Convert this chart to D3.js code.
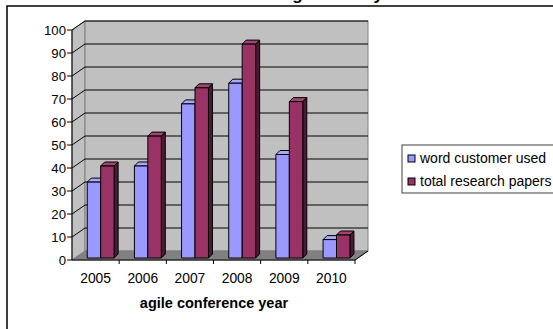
<!DOCTYPE html>
<html>
<head>
<meta charset="utf-8">
<script src="https://cdn.jsdelivr.net/npm/d3@7"></script>
<style>
  body { margin: 0; background: #fff; }
  text { font-family: "Liberation Sans", Arial, sans-serif; }
</style>
</head>
<body>
<svg id="chart" width="553" height="329"></svg>
<script>
var years = ["2005", "2006", "2007", "2008", "2009", "2010"];
var customerUsed = [33, 40, 67, 76, 45, 8];
var totalPapers = [40, 53, 74, 93, 68, 10];
var seriesNames = ["word customer used", "total research papers"];
var yTicks = [0, 10, 20, 30, 40, 50, 60, 70, 80, 90, 100];

var svg = d3.select('#chart');

// 3d look: depth offset of the back wall, and of the bars
var wall = { dx: 13, dy: -9 };
var bar = { dx: 2.5, dy: -2, depth: 4 };

var x = d3.scaleBand().domain(years).range([72, 355]);
var y = d3.scaleLinear().domain([0, 100]).range([260, 30]);

// title sits above the crop, only the descenders show
svg.append('text')
	.attr('x', 280).attr('y', 0)
	.attr('font-size', 17).attr('font-weight', 'bold')
	.text('Agile Survey');

// outer frame
svg.append('rect')
	.attr('x', 7).attr('y', 6)
	.attr('width', 600).attr('height', 400)
	.attr('fill', 'none').attr('stroke', '#000').attr('stroke-width', 1.5);

var x0 = x.range()[0], x1 = x.range()[1];
var pts = function (a) { return a.map(function (p) { return p.join(','); }).join(' '); };

// side wall
svg.append('polygon')
	.attr('points', pts([[x0, y(0)], [x0, y(100)], [x0 + wall.dx, y(100) + wall.dy], [x0 + wall.dx, y(0) + wall.dy]]))
	.attr('fill', '#c0c0c0').attr('stroke', '#808080');

// back wall
svg.append('rect')
	.attr('x', x0 + wall.dx).attr('y', y(100) + wall.dy)
	.attr('width', x1 - x0).attr('height', y(0) - y(100))
	.attr('fill', '#c0c0c0').attr('stroke', '#808080');

// floor
svg.append('polygon')
	.attr('points', pts([[x0, y(0)], [x1, y(0)], [x1 + wall.dx, y(0) + wall.dy], [x0 + wall.dx, y(0) + wall.dy]]))
	.attr('fill', '#808080').attr('stroke', '#808080');

// gridlines
var grid = svg.append('g').attr('stroke', '#000').attr('stroke-width', 1);
yTicks.filter(function (d) { return d > 0; }).forEach(function (d) {
	grid.append('polyline')
		.attr('fill', 'none')
		.attr('points', pts([[x0, y(d)], [x0 + wall.dx, y(d) + wall.dy], [x1 + wall.dx, y(d) + wall.dy]]));
});

// bars
var series = [
	{ values: customerUsed, front: '#9999ff', top: '#a8a8ff', side: '#6b6bb3' },
	{ values: totalPapers, front: '#993366', top: '#a34570', side: '#4d1a33' }
];
var bw = x.bandwidth() * 0.285, boff = x.bandwidth() * 0.27;

years.forEach(function (yr, i) {
	series.forEach(function (s, k) {
		var bx = x(yr) + bar.dx + boff + k * bw;
		var by = y(s.values[i]) + bar.dy;
		var base = y(0) + bar.dy;
		var d = bar.depth;
		var g = svg.append('g').attr('stroke', '#000').attr('stroke-width', 1).attr('stroke-linejoin', 'round');
		g.append('polygon')
			.attr('points', pts([[bx + bw, base], [bx + bw, by], [bx + bw + d, by - d], [bx + bw + d, base - d]]))
			.attr('fill', s.side);
		g.append('polygon')
			.attr('points', pts([[bx, by], [bx + bw, by], [bx + bw + d, by - d], [bx + d, by - d]]))
			.attr('fill', s.top);
		g.append('rect')
			.attr('x', bx).attr('y', by).attr('width', bw).attr('height', base - by)
			.attr('fill', s.front);
	});
});

// axes
var axes = svg.append('g').attr('stroke', '#000').attr('fill', 'none');
axes.append('polyline')
	.attr('points', pts([[x0, y(100)], [x0, y(0)], [x1, y(0)], [x1 + wall.dx, y(0) + wall.dy]]));
yTicks.forEach(function (d) {
	axes.append('line').attr('x1', x0 - 5).attr('x2', x0).attr('y1', y(d)).attr('y2', y(d));
});
years.forEach(function (yr) {
	axes.append('line').attr('x1', x(yr) + x.bandwidth()).attr('x2', x(yr) + x.bandwidth())
		.attr('y1', y(0)).attr('y2', y(0) + 4);
});

svg.append('g').selectAll('text')
	.data(yTicks).enter().append('text')
	.attr('x', x0 - 6).attr('y', function (d) { return y(d) + 5; })
	.attr('text-anchor', 'end').attr('font-size', 13.2)
	.text(function (d) { return d; });

svg.append('g').selectAll('text')
	.data(years).enter().append('text')
	.attr('x', function (d) { return x(d) + x.bandwidth() / 2; })
	.attr('y', 283)
	.attr('text-anchor', 'middle').attr('font-size', 13.8)
	.text(function (d) { return d; });

svg.append('text')
	.attr('x', 214).attr('y', 308)
	.attr('text-anchor', 'middle').attr('font-size', 14.5).attr('font-weight', 'bold')
	.text('agile conference year');

// legend
var legend = svg.append('g');
legend.append('rect')
	.attr('x', 402).attr('y', 145).attr('width', 200).attr('height', 48)
	.attr('fill', '#fff').attr('stroke', '#404040');
seriesNames.forEach(function (name, i) {
	legend.append('rect')
		.attr('x', 408).attr('y', 155 + i * 23).attr('width', 7).attr('height', 7)
		.attr('fill', series[i].front).attr('stroke', '#000');
	legend.append('text')
		.attr('x', 420).attr('y', 163 + i * 23)
		.attr('font-size', 14)
		.text(name);
});
</script>
</body>
</html>
